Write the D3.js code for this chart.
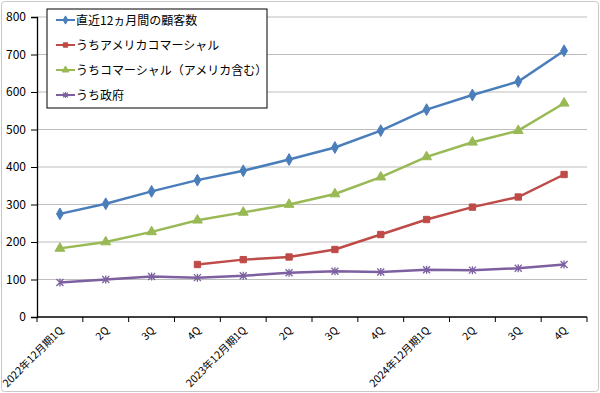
<!DOCTYPE html>
<html><head><meta charset="utf-8">
<script src="https://cdn.jsdelivr.net/npm/d3@7"></script>
<style>body{margin:0;background:#fff}svg{display:block}text{font-family:"Noto Sans CJK JP","DejaVu Sans",sans-serif}</style>
</head><body>
<script>
const categories = ["2022年12月期1Q","2Q","3Q","4Q","2023年12月期1Q","2Q","3Q","4Q","2024年12月期1Q","2Q","3Q","4Q"];
const customers = [275,302,335,365,390,420,452,497,553,592,628,710];
const usCommercial = [null,null,null,140,153,160,180,220,260,293,320,380];
const commercial = [183,200,227,258,279,300,328,373,427,466,497,570];
const government = [92,100,108,105,110,118,122,120,126,125,130,140];
const seriesNames = ["直近12ヵ月間の顧客数","うちアメリカコマーシャル","うちコマーシャル（アメリカ含む）","うち政府"];
const yTicks = [0,100,200,300,400,500,600,700,800];

const series = [
  {name:seriesNames[0], values:customers, color:"#4a7ebb", marker:"diamond"},
  {name:seriesNames[1], values:usCommercial, color:"#be4b48", marker:"square"},
  {name:seriesNames[2], values:commercial, color:"#98b954", marker:"triangle"},
  {name:seriesNames[3], values:government, color:"#7d60a0", marker:"star"}
];

const W=600,H=393;
const svg=d3.select("body").append("svg").attr("width",W).attr("height",H);
svg.append("rect").attr("x",1.5).attr("y",1.5).attr("width",W-3).attr("height",H-3)
  .attr("fill","#fff").attr("stroke","#c8c8c8").attr("rx",3);

const L=37,R=587,T=17,B=317;
const x=d3.scaleBand().domain(d3.range(categories.length)).range([L,R]);
const y=d3.scaleLinear().domain([0,800]).range([B,T]);

// grid
svg.append("g").selectAll("line").data(yTicks.filter(d=>d>0)).join("line")
  .attr("x1",L).attr("x2",R).attr("y1",d=>y(d)).attr("y2",d=>y(d))
  .attr("stroke","#bdbdbd").attr("stroke-width",1);

// y axis
const ya=svg.append("g").attr("transform",`translate(${L},0)`)
  .call(d3.axisLeft(y).tickValues(yTicks).tickSize(6).tickPadding(5));
ya.select(".domain").attr("stroke","#000").attr("stroke-width",1.3);
ya.selectAll(".tick line").attr("stroke","#000");
ya.selectAll("text").attr("font-size",12).attr("fill","#000");

// x axis
const xa=svg.append("g").attr("transform",`translate(0,${B})`);
xa.append("line").attr("x1",L).attr("x2",R).attr("stroke","#000").attr("stroke-width",1.3);
xa.selectAll("line.t").data(d3.range(categories.length+1)).join("line").attr("class","t")
  .attr("x1",i=>L+i*x.step()).attr("x2",i=>L+i*x.step()).attr("y1",0).attr("y2",5).attr("stroke","#000");
xa.selectAll("text").data(categories).join("text")
  .attr("transform",(d,i)=>`translate(${x(i)+x.bandwidth()/2+4},${14}) rotate(-45)`)
  .attr("text-anchor","end").attr("font-size",10.5).attr("fill","#000").text(d=>d);

function markerPath(type,k){
  if(type==="diamond") return d3.symbol(d3.symbolDiamond,40*k*k)();
  if(type==="square") return d3.symbol(d3.symbolSquare,40*k*k)();
  if(type==="triangle") return d3.symbol(d3.symbolTriangle,42*k*k)();
  const a=3.5*k;
  return `M${-a},${-a}L${a},${a}M${-a},${a}L${a},${-a}M0,${-a-0.5}L0,${a+0.5}`;
}

const line=d3.line().defined(d=>d!=null).x((d,i)=>x(i)+x.bandwidth()/2).y(d=>y(d));
series.forEach(s=>{
  svg.append("path").datum(s.values).attr("d",line).attr("fill","none")
    .attr("stroke",s.color).attr("stroke-width",2.5);
  svg.append("g").selectAll("path").data(s.values.map((v,i)=>({v,i})).filter(d=>d.v!=null)).join("path")
    .attr("transform",d=>`translate(${x(d.i)+x.bandwidth()/2},${y(d.v)})`)
    .attr("d",markerPath(s.marker,1))
    .attr("fill",s.marker==="star"?"none":s.color)
    .attr("stroke",s.color).attr("stroke-width",s.marker==="star"?1.3:1);
});

// legend
const lg=svg.append("g");
lg.append("rect").attr("x",47).attr("y",9).attr("width",220).attr("height",99)
  .attr("fill","#fff").attr("stroke","#000").attr("stroke-width",1);
series.forEach((s,k)=>{
  const yy=20+k*25;
  lg.append("line").attr("x1",56).attr("x2",75).attr("y1",yy).attr("y2",yy).attr("stroke",s.color).attr("stroke-width",2);
  lg.append("path").attr("transform",`translate(65.5,${yy})`).attr("d",markerPath(s.marker,0.7))
    .attr("fill",s.marker==="star"?"none":s.color).attr("stroke",s.color).attr("stroke-width",s.marker==="star"?1.2:1);
  lg.append("text").attr("x",76).attr("y",yy+4.5).attr("font-size",12).attr("fill","#000").text(s.name);
});
</script>
</body></html>
